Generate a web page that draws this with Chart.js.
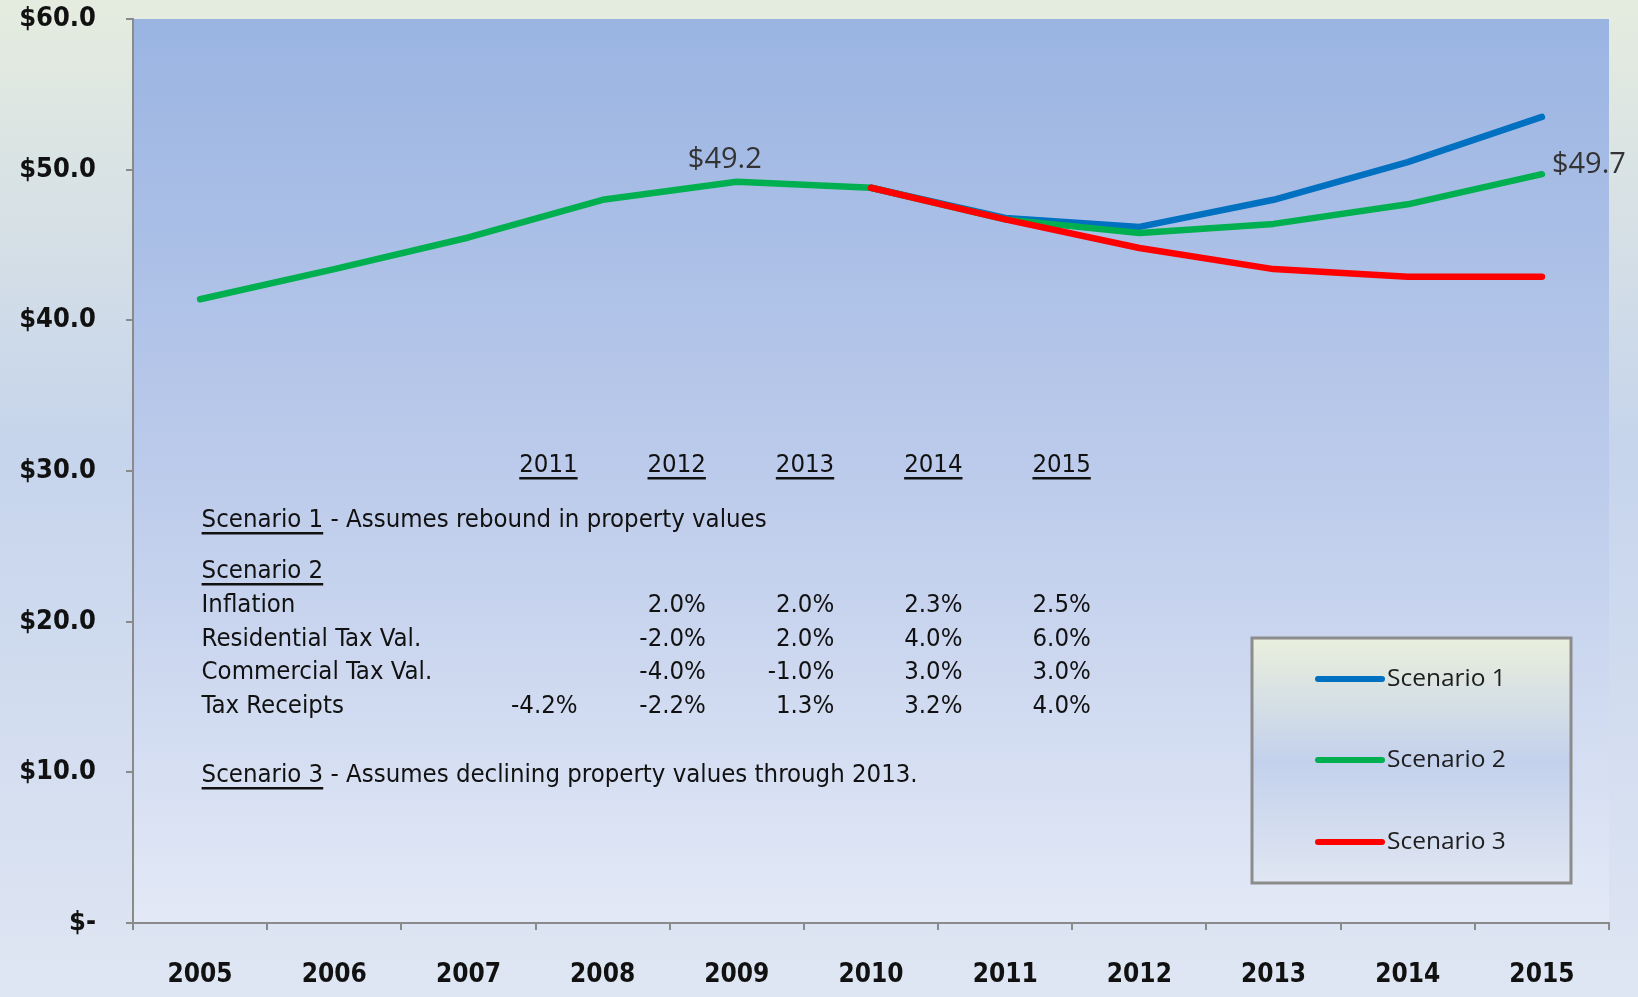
<!DOCTYPE html>
<html>
<head>
<meta charset="utf-8">
<script src="https://cdn.jsdelivr.net/npm/chart.js@4.4.1/dist/chart.umd.min.js"></script>
<style>
  html, body { margin: 0; padding: 0; }
  body { width: 1638px; height: 997px; overflow: hidden; }
</style>
</head>
<body>
<canvas id="chart" width="1638" height="997"></canvas>
<script>
// --- datos ---
const years = ['2005', '2006', '2007', '2008', '2009', '2010', '2011', '2012', '2013', '2014', '2015'];
const scenario1 = [null, null, null, null, null, 48.8, 46.8, 46.2, 48.0, 50.5, 53.5];
const scenario2 = [41.4, 43.4, 45.5, 48.0, 49.2, 48.8, 46.7, 45.8, 46.4, 47.7, 49.7];
const scenario3 = [null, null, null, null, null, 48.8, 46.7, 44.8, 43.4, 42.9, 42.9];
const yTickValues = [0, 10, 20, 30, 40, 50, 60];

// etiquetas de punto (serie, indice, texto)
const pointLabels = [
  { series: 1, index: 4, text: '$49.2' },
  { series: 1, index: 10, text: '$49.7' }
];

// tabla de supuestos
const tableYears = ['2011', '2012', '2013', '2014', '2015'];
const inflationPct = [null, 2.0, 2.0, 2.3, 2.5];
const residentialPct = [null, -2.0, 2.0, 4.0, 6.0];
const commercialPct = [null, -4.0, -1.0, 3.0, 3.0];
const taxReceiptsPct = [-4.2, -2.2, 1.3, 3.2, 4.0];
const scenario1Note = 'Assumes rebound in property values';
const scenario3Note = 'Assumes declining property values through 2013.';

const COLORS = { s1: '#0070c0', s2: '#00b050', s3: '#ff0000' };
const NARROW = '"Liberation Sans Narrow", "Arial Narrow", "DejaVu Sans Condensed", sans-serif';
const TICKFONT = '"DejaVu Sans Condensed", "DejaVu Sans", sans-serif';

// Fondo general y del area de trazado
const backgroundPlugin = {
  id: 'bg',
  beforeDraw(chart) {
    const { ctx, width, height, chartArea: a } = chart;
    ctx.save();
    let g = ctx.createLinearGradient(0, 0, 0, height);
    g.addColorStop(0, '#e5ecdf');
    g.addColorStop(0.45, '#c6d4ec');
    g.addColorStop(1, '#dfe6f3');
    ctx.fillStyle = g;
    ctx.fillRect(0, 0, width, height);
    g = ctx.createLinearGradient(0, a.top, 0, a.bottom);
    g.addColorStop(0, '#9ab4e2');
    g.addColorStop(0.5, '#bccbeb');
    g.addColorStop(1, '#e3e9f6');
    ctx.fillStyle = g;
    ctx.fillRect(a.left, a.top, a.right - a.left, a.bottom - a.top);
    ctx.restore();
  }
};

function underlined(ctx, text, x, y, align) {
  ctx.textAlign = align || 'left';
  ctx.fillText(text, x, y);
  const w = ctx.measureText(text).width;
  const x0 = align === 'right' ? x - w : x;
  ctx.fillRect(x0, y + 12, w, 2.5);
  return w;
}

const fmtPct = v => v == null ? '' : v.toFixed(1) + '%';

// Tabla de texto dentro del grafico
const tablePlugin = {
  id: 'table',
  afterDatasetsDraw(chart) {
    const ctx = chart.ctx;
    ctx.save();
    ctx.fillStyle = '#111';
    ctx.font = '25.5px ' + NARROW;
    ctx.textBaseline = 'middle';
    const left = 201.6;
    const colRight = i => 577.6 + i * 128.3;

    tableYears.forEach((y, i) => underlined(ctx, y, colRight(i), 465, 'right'));

    let w = underlined(ctx, 'Scenario 1', left, 520);
    ctx.textAlign = 'left';
    ctx.fillText(' - ' + scenario1Note, left + w, 520);

    underlined(ctx, 'Scenario 2', left, 571);

    const rows = [
      ['Inflation', inflationPct, 605],
      ['Residential Tax Val.', residentialPct, 639],
      ['Commercial Tax Val.', commercialPct, 672],
      ['Tax Receipts', taxReceiptsPct, 706]
    ];
    rows.forEach(([name, vals, y]) => {
      ctx.textAlign = 'left';
      ctx.fillText(name, left, y);
      ctx.textAlign = 'right';
      vals.forEach((v, i) => ctx.fillText(fmtPct(v), colRight(i), y));
    });

    w = underlined(ctx, 'Scenario 3', left, 775);
    ctx.textAlign = 'left';
    ctx.fillText(' - ' + scenario3Note, left + w, 775);
    ctx.restore();
  }
};

// Etiquetas de valor
const valueLabelPlugin = {
  id: 'valueLabels',
  afterDatasetsDraw(chart) {
    const ctx = chart.ctx;
    ctx.save();
    ctx.fillStyle = '#333';
    ctx.font = '29px "Open Sans", sans-serif';
    ctx.textBaseline = 'middle';
    pointLabels.forEach(l => {
      const pt = chart.getDatasetMeta(l.series).data[l.index];
      if (!pt) return;
      if (l.index === years.length - 1) {
        ctx.textAlign = 'left';
        ctx.fillText(l.text, pt.x + 10, pt.y - 9);
      } else {
        ctx.textAlign = 'center';
        ctx.fillText(l.text, pt.x - 12, pt.y - 22);
      }
    });
    ctx.restore();
  }
};

// Leyenda en caja con degradado
const legendBoxPlugin = {
  id: 'legendBox',
  afterDraw(chart) {
    const ctx = chart.ctx;
    const bx = 1252, by = 638, bw = 319, bh = 245;
    ctx.save();
    const g = ctx.createLinearGradient(0, by, 0, by + bh);
    g.addColorStop(0, '#eaefdc');
    g.addColorStop(0.5, '#c3d1ec');
    g.addColorStop(1, '#e0e6f2');
    ctx.fillStyle = g;
    ctx.fillRect(bx, by, bw, bh);
    ctx.strokeStyle = '#8c8c8c';
    ctx.lineWidth = 3;
    ctx.strokeRect(bx, by, bw, bh);

    const order = [2, 1, 0]; // Scenario 1, 2, 3
    const rowsY = [679, 760, 842];
    ctx.font = '24.5px "Open Sans", sans-serif';
    ctx.textBaseline = 'middle';
    ctx.textAlign = 'left';
    ctx.lineCap = 'round';
    order.forEach((di, i) => {
      const ds = chart.data.datasets[di];
      ctx.strokeStyle = ds.borderColor;
      ctx.lineWidth = 6;
      ctx.beginPath();
      ctx.moveTo(1318, rowsY[i]);
      ctx.lineTo(1382, rowsY[i]);
      ctx.stroke();
      ctx.fillStyle = '#1e1e1e';
      ctx.fillText(ds.label, 1387, rowsY[i]);
    });
    ctx.restore();
  }
};

const lineDs = (label, data, color, order) => ({
  label, data, order,
  borderColor: color,
  backgroundColor: color,
  borderWidth: 6.5,
  borderCapStyle: 'round',
  borderJoinStyle: 'round',
  tension: 0,
  pointRadius: 0,
  pointHoverRadius: 0,
  fill: false,
  spanGaps: false
});

new Chart(document.getElementById('chart'), {
  type: 'line',
  data: {
    labels: years,
    datasets: [
      lineDs('Scenario 3', scenario3, COLORS.s3, 0),
      lineDs('Scenario 2', scenario2, COLORS.s2, 1),
      lineDs('Scenario 1', scenario1, COLORS.s1, 2)
    ]
  },
  options: {
    responsive: false,
    animation: false,
    devicePixelRatio: 1,
    layout: { padding: { top: 19, right: 29, left: 0, bottom: 0 } },
    plugins: {
      legend: { display: false },
      tooltip: { enabled: false }
    },
    scales: {
      x: {
        type: 'category',
        offset: true,
        afterFit: s => { s.height = 74; s.paddingLeft = 0; s.paddingRight = 0; },
        grid: { offset: true, drawOnChartArea: false, drawTicks: true, tickLength: 7, color: '#8a8a8a', lineWidth: 2 },
        border: { color: '#8a8a8a', width: 2 },
        ticks: { color: '#111', padding: 30, maxRotation: 0, font: { family: TICKFONT, size: 26, weight: 'bold' } }
      },
      y: {
        min: 0, max: 60,
        afterFit: s => { s.width = 133; s.paddingTop = 0; s.paddingBottom = 0; },
        afterBuildTicks: s => { s.ticks = yTickValues.map(v => ({ value: v })); },
        grid: { drawOnChartArea: false, drawTicks: true, tickLength: 7, color: '#8a8a8a', lineWidth: 2 },
        border: { color: '#8a8a8a', width: 2 },
        ticks: {
          color: '#111', padding: 30,
          font: { family: TICKFONT, size: 27, weight: 'bold' },
          callback: v => v === 0 ? '$-' : '$' + v.toFixed(1)
        }
      }
    }
  },
  plugins: [backgroundPlugin, tablePlugin, valueLabelPlugin, legendBoxPlugin]
});
</script>
</body>
</html>
